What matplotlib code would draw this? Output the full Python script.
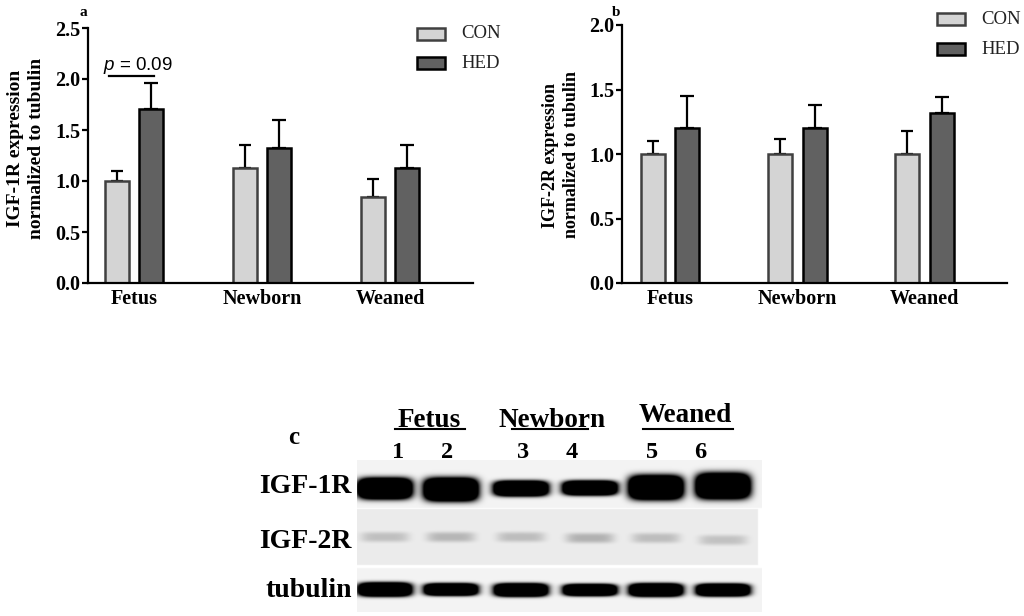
import numpy as np
import matplotlib
matplotlib.use("Agg")
import matplotlib.pyplot as plt

# ---------------- data ----------------
groups = ["Fetus", "Newborn", "Weaned"]
series = ["CON", "HED"]

igf1r_con = [1.00, 1.13, 0.84]
igf1r_con_err = [0.10, 0.22, 0.18]
igf1r_hed = [1.71, 1.32, 1.13]
igf1r_hed_err = [0.25, 0.28, 0.22]

igf2r_con = [1.00, 1.00, 1.00]
igf2r_con_err = [0.10, 0.12, 0.18]
igf2r_hed = [1.20, 1.20, 1.32]
igf2r_hed_err = [0.25, 0.18, 0.12]

p_label = "0.09"

lanes = ["1", "2", "3", "4", "5", "6"]
blot_rows = ["IGF-1R", "IGF-2R", "tubulin"]
igf1r_band = [1.00, 1.10, 0.72, 0.68, 1.15, 1.22]
igf2r_band = [0.19, 0.23, 0.20, 0.25, 0.20, 0.18]
tubulin_band = [1.00, 0.88, 0.95, 0.85, 0.95, 0.90]

# ---------------- style ----------------
plt.rcParams["mathtext.fontset"] = "custom"
plt.rcParams["mathtext.it"] = "Liberation Sans:italic"
plt.rcParams["mathtext.rm"] = "Liberation Sans"

SERIF = "Liberation Serif"
con_face, con_edge = "#d4d4d4", "#404040"
hed_face, hed_edge = "#616161", "#000000"

FW, FH = 1024, 616
fig = plt.figure(figsize=(FW / 100, FH / 100), dpi=100)


def fx(x):
    return x / FW


def fy(y):
    return 1 - y / FH


def bar_panel(rect, ylim, yticks, con, con_err, hed, hed_err, xlim, width, off):
    l, t, r, b = rect
    ax = fig.add_axes([fx(l), fy(b), fx(r - l), (b - t) / FH])
    x = np.arange(len(groups))
    ax.bar(x - off, con, width, color=con_face, edgecolor=con_edge, linewidth=1.8, zorder=2)
    ax.bar(x + off, hed, width, color=hed_face, edgecolor=hed_edge, linewidth=1.8, zorder=2)
    ax.errorbar(x - off, con, yerr=[np.zeros(len(con)), con_err], fmt="none",
                ecolor="black", elinewidth=1.6, capsize=4.5, capthick=1.6, zorder=1)
    ax.errorbar(x + off, hed, yerr=[np.zeros(len(hed)), hed_err], fmt="none",
                ecolor="black", elinewidth=1.6, capsize=5, capthick=1.6, zorder=1)
    ax.set_xlim(*xlim)
    ax.set_ylim(*ylim)
    ax.set_yticks(yticks)
    ax.set_yticklabels([f"{v:.1f}" for v in yticks])
    ax.set_xticks(x)
    ax.set_xticklabels(groups)
    for s in ["top", "right"]:
        ax.spines[s].set_visible(False)
    for s in ["left", "bottom"]:
        ax.spines[s].set_linewidth(1.6)
    ax.tick_params(axis="y", direction="out", length=4.5, width=1.6, pad=1)
    ax.tick_params(axis="x", length=0, pad=4.5)
    for lab in ax.get_xticklabels() + ax.get_yticklabels():
        lab.set_fontfamily(SERIF)
        lab.set_fontweight("bold")
        lab.set_fontsize(14.5)
    ax.patch.set_alpha(0)
    return ax


def legend_at(x, y, pitch):
    for i, (name, fc, ec) in enumerate(zip(series, [con_face, hed_face], [con_edge, hed_edge])):
        yy = y + i * pitch
        fig.patches.append(plt.Rectangle((fx(x), fy(yy + 12)), fx(28), 12 / FH,
                                         facecolor=fc, edgecolor=ec, linewidth=1.8,
                                         transform=fig.transFigure, figure=fig))
        fig.text(fx(x + 44), fy(yy + 6), name, fontfamily=SERIF, fontsize=13.5,
                 ha="left", va="center", color="#222222")


# panel a
axa = bar_panel((88, 28, 473, 283), (0, 2.5), [0, 0.5, 1.0, 1.5, 2.0, 2.5],
                igf1r_con, igf1r_con_err, igf1r_hed, igf1r_hed_err,
                (-0.359, 2.648), 0.187, 0.133)
axa.plot([-0.195, 0.156], [2.03, 2.03], color="black", lw=1.6)
axa.text(0.03, 2.085, r"$\it{p}$ = " + p_label, ha="center", va="baseline",
         fontfamily="Liberation Sans", fontsize=13.5)
fig.text(fx(26), fy(148), "IGF-1R expression\nnormalized to tubulin", rotation=90,
         ha="center", va="center", multialignment="center", fontfamily=SERIF,
         fontweight="bold", fontsize=14, linespacing=1.25)
fig.text(fx(83), fy(13), "a", fontfamily=SERIF, fontweight="bold", fontsize=11,
         ha="center", va="center")
legend_at(417, 28, 29)

# panel b
axb = bar_panel((622, 25, 1007, 283), (0, 2.0), [0, 0.5, 1.0, 1.5, 2.0],
                igf2r_con, igf2r_con_err, igf2r_hed, igf2r_hed_err,
                (-0.377, 2.648), 0.189, 0.136)
fig.text(fx(561), fy(155), "IGF-2R expression\nnormalized to tubulin", rotation=90,
         ha="center", va="center", multialignment="center", fontfamily=SERIF,
         fontweight="bold", fontsize=13, linespacing=1.3)
fig.text(fx(616), fy(12), "b", fontfamily=SERIF, fontweight="bold", fontsize=11,
         ha="center", va="center")
legend_at(937, 13, 30)

# panel c : western blot
bx0, bx1, by0, by1 = 357, 762, 460, 612
axc = fig.add_axes([fx(bx0), fy(by1), fx(bx1 - bx0), (by1 - by0) / FH])
axc.set_xlim(bx0, bx1)
axc.set_ylim(by1, by0)
axc.axis("off")

S = 2
Wp, Hp = (bx1 - bx0) * S, (by1 - by0) * S
X, Y = np.meshgrid(bx0 + (np.arange(Wp) + 0.5) / S, by0 + (np.arange(Hp) + 0.5) / S)
img = np.ones((Hp, Wp))
lane_x = [385, 451, 521, 590, 656, 723]

strips = [
    # x0, x1, y0, y1, background, centre y per lane, band data, mode
    (357, 762, 460, 508, 0.955, [488.5, 489.5, 488.5, 488, 487.5, 486], igf1r_band, "thick"),
    (357, 758, 509, 565, 0.925, [537, 537, 537, 538, 538, 540], igf2r_band, "faint"),
    (357, 762, 568, 612, 0.955, [589.5, 589.5, 590, 590, 590, 590], tubulin_band, "tub"),
]
for sx0, sx1, sy0, sy1, bg, cys, band, mode in strips:
    dark = np.zeros_like(img)
    for cx, cy, v in zip(lane_x, cys, band):
        if mode == "thick":
            amp, wx, wy = 3.0, 26.5, 10.0 * v
        elif mode == "faint":
            amp, wx, wy = v, 24.0, 5.0
        else:
            amp, wx, wy = 3.0, 26.0, 6.5 * v
        dark += amp * np.exp(-(np.abs(X - cx) / wx) ** 5 - (np.abs(Y - cy) / wy) ** 3.2)
    m = (X >= sx0) & (X < sx1) & (Y >= sy0) & (Y < sy1)
    img[m] = (bg * (1 - np.clip(dark, 0, 1)))[m]

axc.imshow(img, cmap="gray", vmin=0, vmax=1, extent=(bx0, bx1, by1, by0),
           interpolation="bilinear", aspect="auto")

# blot labels
row_y = [493, 548, 597]
for name, yy in zip(blot_rows, row_y):
    axc.text(352, yy, name, ha="right", va="baseline", fontfamily=SERIF,
             fontweight="bold", fontsize=20, clip_on=False)
num_x = [398, 447, 523, 572, 652, 700]
for name, xx in zip(lanes, num_x):
    axc.text(xx, 458, name, ha="center", va="baseline", fontfamily=SERIF,
             fontweight="bold", fontsize=17.5, clip_on=False)
grp_x = [429, 552, 685]
grp_y = [427, 427, 422]
ul = [(395, 465), (512, 588), (643, 733)]
for name, xx, yy, (u0, u1) in zip(groups, grp_x, grp_y, ul):
    axc.text(xx, yy, name, ha="center", va="baseline", fontfamily=SERIF,
             fontweight="bold", fontsize=19.5, clip_on=False)
    axc.plot([u0, u1], [429, 429], color="black", lw=1.5, clip_on=False)
axc.text(294, 437, "c", ha="center", va="center", fontfamily=SERIF,
         fontweight="bold", fontsize=18, clip_on=False)

fig.savefig("out.png", dpi=100)
